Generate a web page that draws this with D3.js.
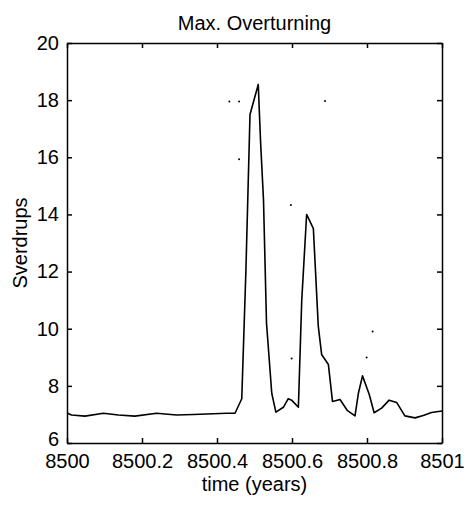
<!DOCTYPE html>
<html>
<head>
<meta charset="utf-8">
<script src="https://cdn.jsdelivr.net/npm/d3@7"></script>
<style>
  body { margin: 0; background: #fff; }
  text { font-family: "Liberation Sans", Arial, sans-serif; fill: #000; }
</style>
</head>
<body>
<div id="chart"></div>
<script>
'use strict';

// time in years, overturning in Sverdrups
const timeYears = [
    8500.000, 8500.012, 8500.048, 8500.097, 8500.137, 8500.181, 8500.239,
    8500.292, 8500.337, 8500.426, 8500.448, 8500.466, 8500.477, 8500.488,
    8500.510, 8500.516, 8500.524, 8500.532, 8500.546, 8500.557, 8500.577,
    8500.590, 8500.599, 8500.617, 8500.626, 8500.639, 8500.657, 8500.670,
    8500.679, 8500.697, 8500.708, 8500.728, 8500.748, 8500.768, 8500.777,
    8500.788, 8500.806, 8500.819, 8500.839, 8500.859, 8500.879, 8500.901,
    8500.928, 8500.950, 8500.972, 8501.000
];
const overturning = [
    7.05, 6.98, 6.94, 7.04, 6.98, 6.94, 7.04,
    6.98, 7.00, 7.04, 7.04, 7.55, 12.0, 17.5,
    18.55, 16.6, 14.5, 10.2, 7.74, 7.08, 7.25,
    7.55, 7.50, 7.25, 11.0, 14.0, 13.5, 10.1,
    9.1, 8.75, 7.45, 7.52, 7.13, 6.95, 7.74,
    8.35, 7.7, 7.06, 7.22, 7.5, 7.42, 6.95,
    6.88, 6.96, 7.07, 7.12
];

// stray scan specks visible in the figure
const speckTime = [8500.433, 8500.459, 8500.459, 8500.688, 8500.597, 8500.599, 8500.815, 8500.799];
const speckValue = [17.95, 17.95, 15.93, 17.97, 14.33, 8.96, 9.9, 8.99];

const xTicks = [8500, 8500.2, 8500.4, 8500.6, 8500.8, 8501];
const yTicks = [6, 8, 10, 12, 14, 16, 18, 20];

const title = 'Max. Overturning';
const xLabel = 'time (years)';
const yLabel = 'Sverdrups';

const width = 467, height = 505;
const margin = { top: 43, left: 67, right: 25, bottom: 62 };
const w = width - margin.left - margin.right;
const h = height - margin.top - margin.bottom;

const svg = d3.select('#chart').append('svg')
    .attr('width', width)
    .attr('height', height);

const g = svg.append('g')
    .attr('transform', 'translate(' + [margin.left, margin.top] + ')');

const x = d3.scaleLinear().domain([8500, 8501]).range([0, w]);
const y = d3.scaleLinear().domain([6, 20]).range([h, 0]);

const fmtX = (d) => d === 8500 || d === 8501 ? String(d) : d.toFixed(1);

// bottom + left axes with labels, ticks pointing inward
const axBottom = g.append('g')
    .attr('transform', 'translate(0,' + h + ')')
    .call(d3.axisBottom(x).tickValues(xTicks).tickFormat(fmtX).tickSizeInner(-5).tickSizeOuter(0).tickPadding(12));

const axLeft = g.append('g')
    .call(d3.axisLeft(y).tickValues(yTicks).tickSizeInner(-5).tickSizeOuter(0).tickPadding(8));

// top + right axes, ticks only
const axTop = g.append('g')
    .call(d3.axisTop(x).tickValues(xTicks).tickFormat('').tickSizeInner(-5).tickSizeOuter(0));

const axRight = g.append('g')
    .attr('transform', 'translate(' + w + ',0)')
    .call(d3.axisRight(y).tickValues(yTicks).tickFormat('').tickSizeInner(-5).tickSizeOuter(0));

[axBottom, axLeft, axTop, axRight].forEach((a) => {
    a.selectAll('path').attr('stroke', '#000').attr('stroke-width', 1.5);
    a.selectAll('line').attr('stroke', '#000').attr('stroke-width', 1.5);
    a.selectAll('text').style('font-size', '20px').attr('fill', '#000');
});

axBottom.selectAll('text').attr('dy', '0.65em');
// lift the lowest y label a little so it clears the x labels
axLeft.selectAll('text').filter((d) => d === 6).attr('dy', '0.1em');

const pts = timeYears.map((t, i) => [t, overturning[i]]);

g.append('path')
    .datum(pts)
    .attr('fill', 'none')
    .attr('stroke', '#000')
    .attr('stroke-width', 1.6)
    .attr('stroke-linejoin', 'round')
    .attr('d', d3.line().x((d) => x(d[0])).y((d) => y(d[1])));

g.selectAll('.speck')
    .data(speckTime.map((t, i) => [t, speckValue[i]]))
    .enter()
        .append('circle')
        .classed('speck', true)
        .attr('cx', (d) => x(d[0]))
        .attr('cy', (d) => y(d[1]))
        .attr('r', 1)
        .attr('fill', '#000');

svg.append('text')
    .attr('x', margin.left + w / 2)
    .attr('y', 30)
    .attr('text-anchor', 'middle')
    .style('font-size', '20px')
    .text(title);

svg.append('text')
    .attr('x', margin.left + w / 2)
    .attr('y', 491)
    .attr('text-anchor', 'middle')
    .style('font-size', '20px')
    .text(xLabel);

svg.append('text')
    .attr('transform', 'translate(27,' + (margin.top + h / 2) + ') rotate(-90)')
    .attr('text-anchor', 'middle')
    .style('font-size', '20px')
    .text(yLabel);
</script>
</body>
</html>
